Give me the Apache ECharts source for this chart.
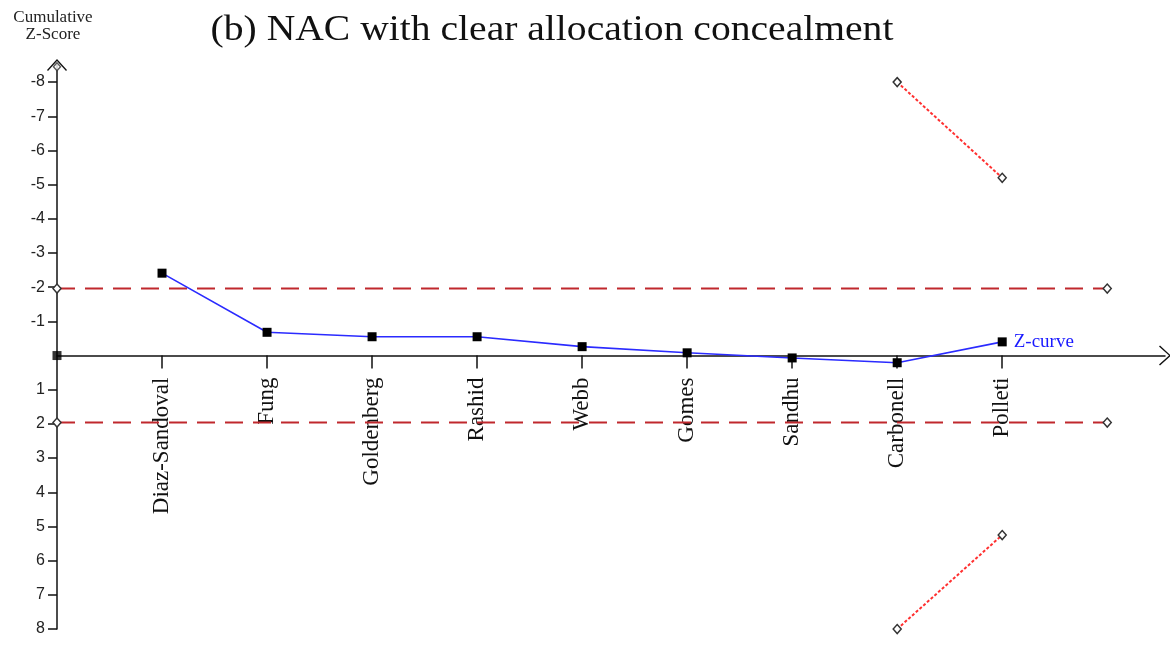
<!DOCTYPE html>
<html>
<head>
<meta charset="utf-8">
<title>NAC with clear allocation concealment</title>
<script src="https://cdn.jsdelivr.net/npm/echarts@6/dist/echarts.min.js"></script>
<style>
  html, body { margin: 0; padding: 0; background: #fff; }
  #chart { width: 1170px; height: 651px; }
</style>
</head>
<body>
<div id="chart"></div>
<script>
// studies in order of accrual, placed at positions 1..9
const studies = ['Diaz-Sandoval', 'Fung', 'Goldenberg', 'Rashid', 'Webb', 'Gomes', 'Sandhu', 'Carbonell', 'Polleti']
const studyPos = [1, 2, 3, 4, 5, 6, 7, 8, 9]
// cumulative z values (negative = upward)
const zValues = [-2.41, -0.68, -0.55, -0.55, -0.26, -0.08, 0.07, 0.21, -0.40]

// conventional boundary +-1.96, drawn from 0 to 10
const convPos = [0, 10]
const convUpper = [-1.96, -1.96]
const convLower = [1.96, 1.96]

// trial sequential monitoring boundaries
const tsmbPos = [8, 9]
const tsmbUpper = [-8, -5.2]
const tsmbLower = [8, 5.25]

// y tick labels (0 not labelled)
const yTicks = [-8, -7, -6, -5, -4, -3, -2, -1, 1, 2, 3, 4, 5, 6, 7, 8]

const yMin = -8.5
const yMax = 8

const pairs = (xs, ys) => xs.map((x, i) => [x, ys[i]])

const chevron = 'path://M0,11 L10,0 L20,11 L19,12 L10,2 L1,12 Z'

const diamondStyle = {
  color: '#fff',
  borderColor: '#333',
  borderWidth: 1.5
}

const gridTop = 65
const gridBottom = 22
const chartH = 651
// x axis sits at z = 0; labels don't follow onZero in v6, so shift the axis with offset instead
const plotH = chartH - gridTop - gridBottom
const zeroOffset = -plotH * (yMax - 0) / (yMax - yMin)

const chart = echarts.init(document.getElementById('chart'))

const option = {
  animation: false,
  backgroundColor: '#fff',
  graphic: [
    {
      type: 'text',
      x: 552,
      y: 31,
      scaleX: 1.1,
      style: {
        text: '(b) NAC with clear allocation concealment',
        fontFamily: 'Liberation Serif',
        fontSize: 36,
        fill: '#111',
        align: 'center',
        verticalAlign: 'middle'
      }
    },
    {
      type: 'text',
      x: 53,
      y: 18,
      style: {
        text: 'Cumulative',
        fontFamily: 'Liberation Serif',
        fontSize: 17,
        fill: '#222',
        align: 'center',
        verticalAlign: 'middle'
      }
    },
    {
      type: 'text',
      x: 53,
      y: 35,
      style: {
        text: 'Z-Score',
        fontFamily: 'Liberation Serif',
        fontSize: 17,
        fill: '#222',
        align: 'center',
        verticalAlign: 'middle'
      }
    }
  ],
  grid: {
    left: 57,
    right: 5,
    top: gridTop,
    bottom: gridBottom,
    outerBounds: { left: -400, top: -400, right: -400, bottom: -400 }
  },
  xAxis: {
    type: 'value',
    min: 0,
    max: 10.55,
    offset: zeroOffset,
    splitLine: { show: false },
    axisLine: {
      onZero: false,
      symbol: ['none', chevron],
      symbolSize: [20, 12],
      lineStyle: { color: '#111', width: 1.5 }
    },
    axisTick: {
      customValues: studyPos,
      length: 13,
      lineStyle: { color: '#111', width: 1.5 }
    },
    axisLabel: {
      customValues: studyPos,
      rotate: 90,
      margin: 22,
      fontFamily: 'Liberation Serif',
      fontSize: 23,
      color: '#111',
      formatter: (v) => studies[studyPos.indexOf(v)] || ''
    }
  },
  yAxis: {
    type: 'value',
    inverse: true,
    min: yMin,
    max: yMax,
    splitLine: { show: false },
    axisLine: {
      show: true,
      onZero: false,
      symbol: ['none', chevron],
      symbolSize: [20, 12],
      lineStyle: { color: '#111', width: 1.5 }
    },
    axisTick: {
      show: true,
      customValues: yTicks,
      length: 9,
      lineStyle: { color: '#111', width: 1.5 }
    },
    axisLabel: {
      customValues: yTicks,
      margin: 12,
      fontFamily: 'Liberation Sans',
      fontSize: 16,
      color: '#222'
    }
  },
  series: [
    {
      name: 'Conventional upper',
      type: 'line',
      data: pairs(convPos, convUpper),
      symbol: 'diamond',
      symbolSize: [8, 9],
      itemStyle: diamondStyle,
      lineStyle: { color: '#c0282d', width: 2, type: [18, 10] },
      z: 2
    },
    {
      name: 'Conventional lower',
      type: 'line',
      data: pairs(convPos, convLower),
      symbol: 'diamond',
      symbolSize: [8, 9],
      itemStyle: diamondStyle,
      lineStyle: { color: '#c0282d', width: 2, type: [18, 10] },
      z: 2
    },
    {
      name: 'TSMB upper',
      type: 'line',
      data: pairs(tsmbPos, tsmbUpper),
      symbol: 'diamond',
      symbolSize: [8, 9],
      itemStyle: diamondStyle,
      lineStyle: { color: '#ff3030', width: 2, type: [3, 2] },
      z: 2
    },
    {
      name: 'TSMB lower',
      type: 'line',
      data: pairs(tsmbPos, tsmbLower),
      symbol: 'diamond',
      symbolSize: [8, 9],
      itemStyle: diamondStyle,
      lineStyle: { color: '#ff3030', width: 2, type: [3, 2] },
      z: 2
    },
    {
      name: 'Boundary start',
      type: 'scatter',
      data: [[0, -8.45]],
      symbol: 'diamond',
      symbolSize: [7, 8],
      itemStyle: diamondStyle,
      z: 2
    },
    {
      name: 'Origin',
      type: 'scatter',
      data: [[0, 0]],
      symbol: 'rect',
      symbolSize: 9,
      itemStyle: { color: '#000' },
      z: 4
    },
    {
      name: 'Z-curve',
      type: 'line',
      data: pairs(studyPos, zValues),
      symbol: 'rect',
      symbolSize: 9,
      showAllSymbol: true,
      itemStyle: { color: '#000' },
      lineStyle: { color: '#2b2bff', width: 1.6 },
      label: {
        show: true,
        position: 'right',
        distance: 7,
        fontFamily: 'Liberation Serif',
        fontSize: 19,
        color: '#1a1aff',
        formatter: (p) => (p.dataIndex === studyPos.length - 1 ? 'Z-curve' : '')
      },
      z: 4
    }
  ]
}

chart.setOption(option)
</script>
</body>
</html>
